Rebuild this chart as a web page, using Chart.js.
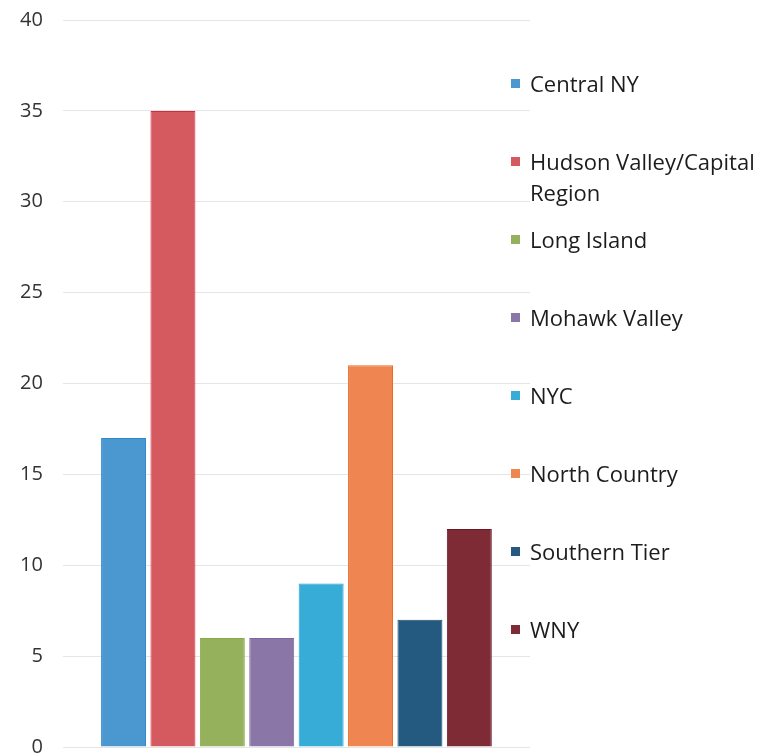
<!DOCTYPE html>
<html>
<head>
<meta charset="utf-8">
<script src="https://cdn.jsdelivr.net/npm/chart.js@4"></script>
<style>
  body { margin: 0; background: #fff; }
  #wrap { position: relative; width: 775px; height: 755px; }
  #legend { position: absolute; left: 0; top: 0; font-family: "Open Sans", Lato, sans-serif; font-size: 22px; color: #1c1c1c; }
  .item { position: absolute; left: 511px; width: 262px; line-height: 31px; }
  .item span.box { position: absolute; left: 0; top: 11px; width: 9px; height: 9px; }
  .item span.txt { display: block; margin-left: 19px; }
</style>
</head>
<body>
<div id="wrap">
  <canvas id="region-chart" width="775" height="755"></canvas>
  <div id="legend"></div>
</div>
<script>
// regions and counts
const regions = [
  "Central NY",
  "Hudson Valley/Capital Region",
  "Long Island",
  "Mohawk Valley",
  "NYC",
  "North Country",
  "Southern Tier",
  "WNY",
];
const counts = [17, 35, 6, 6, 9, 21, 7, 12];
const fillColors = ["#4b97cf", "#d45a60", "#95b15c", "#8b76a8", "#36acd6", "#ef8550", "#245a80", "#7e2b36"];
const edgeColors = ["#2f8bd0", "#d9283e", "#89a84a", "#7d679c", "#1aa2d4", "#f06a28", "#164b72", "#6c1726"];
const yTicks = [0, 5, 10, 15, 20, 25, 30, 35, 40];

const regionChart = document.getElementById("region-chart");

new Chart(regionChart, {
  type: "bar",
  data: {
    labels: [""],
    datasets: regions.map((name, i) => ({
      label: name,
      data: [counts[i]],
      backgroundColor: fillColors[i],
      borderColor: edgeColors[i],
      borderWidth: 1,
      categoryPercentage: 0.846,
      barPercentage: 0.91,
    })),
  },
  options: {
    responsive: false,
    animation: false,
    layout: { padding: { left: 0, right: 245, top: 20, bottom: 8 } },
    plugins: { legend: { display: false }, tooltip: { enabled: false } },
    scales: {
      x: { display: false },
      y: {
        min: 0,
        max: 40,
        afterBuildTicks: (axis) => {
          axis.ticks = yTicks.map((v) => ({ value: v }));
        },
        // tick padding would otherwise push the plot down from the top/bottom
        afterFit: (axis) => {
          axis.paddingTop = 0;
          axis.paddingBottom = 0;
        },
        border: { display: false },
        grid: { color: "#e6e6e6", drawTicks: false },
        ticks: {
          padding: 20,
          color: "#333",
          font: { family: "'Open Sans', Lato, sans-serif", size: 20 },
        },
      },
    },
  },
});

// legend on the right
const legend = document.getElementById("legend");
regions.forEach((name, i) => {
  const item = document.createElement("div");
  item.className = "item";
  item.style.top = 83 + i * 78 - 15 + "px";
  const box = document.createElement("span");
  box.className = "box";
  box.style.background = fillColors[i];
  const txt = document.createElement("span");
  txt.className = "txt";
  txt.textContent = name;
  item.appendChild(box);
  item.appendChild(txt);
  legend.appendChild(item);
});
</script>
</body>
</html>
